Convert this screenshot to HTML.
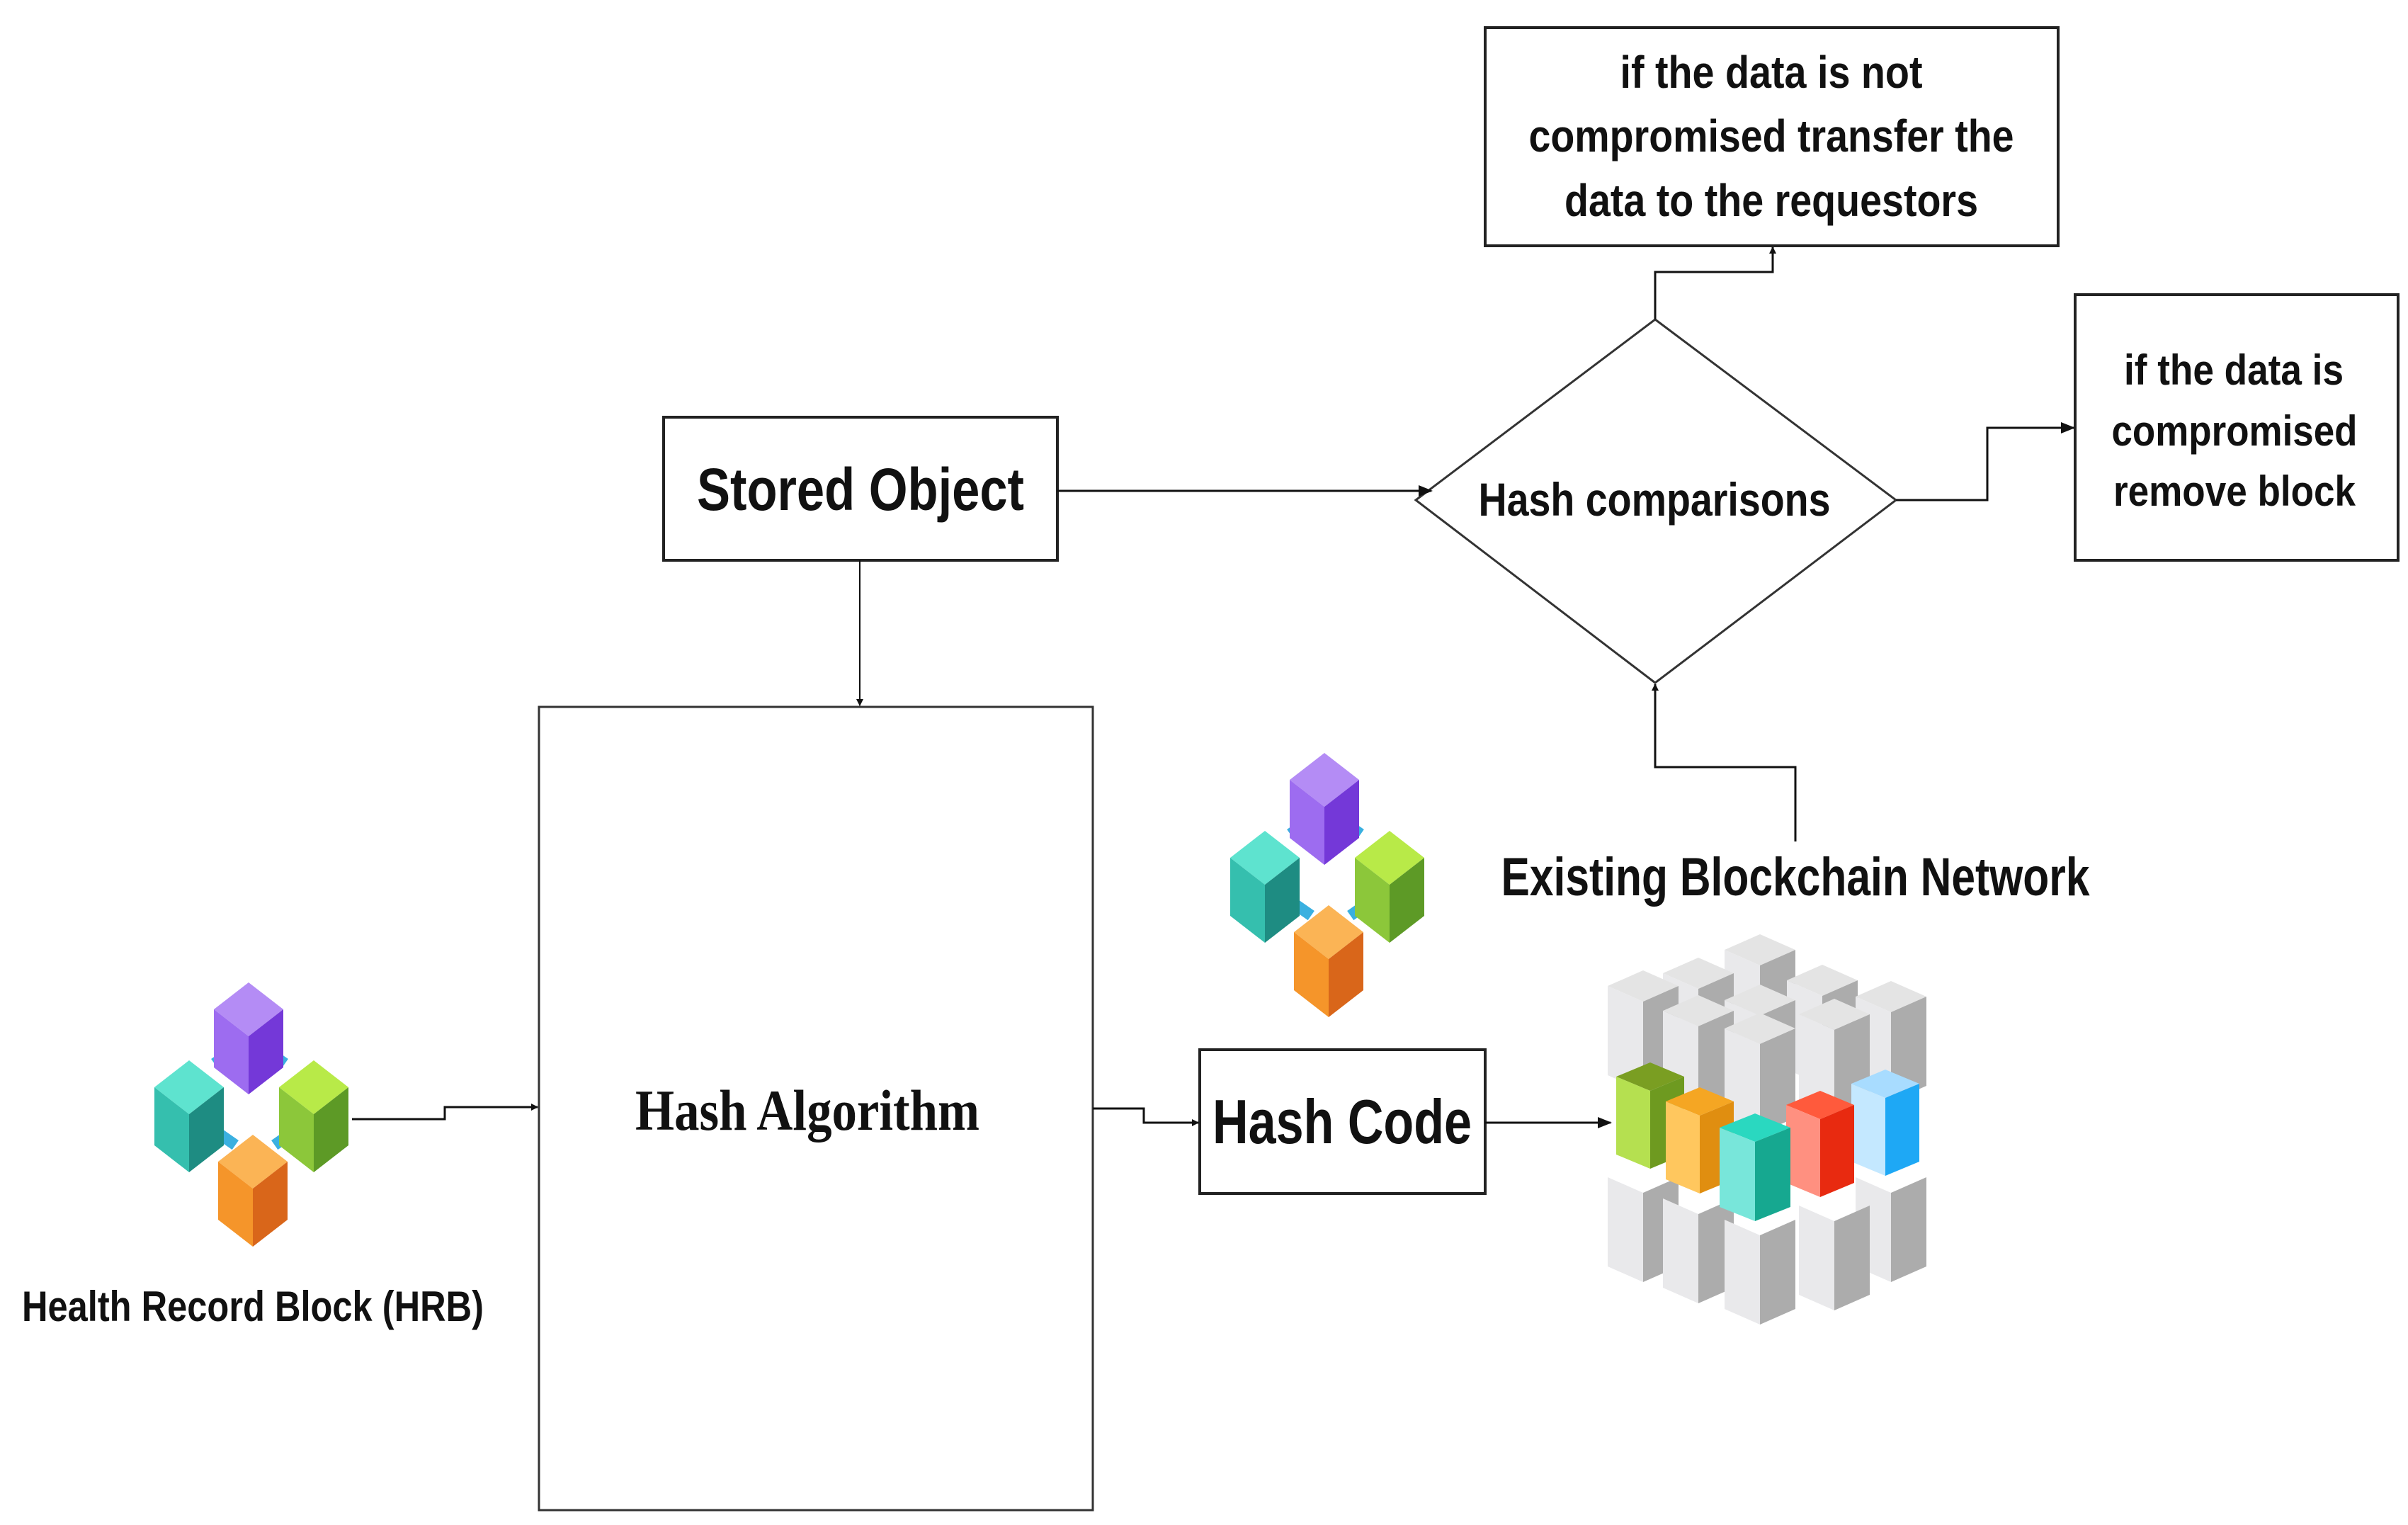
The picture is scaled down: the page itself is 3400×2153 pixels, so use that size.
<!DOCTYPE html>
<html><head><meta charset="utf-8">
<style>
html,body{margin:0;padding:0;background:#fff;}
svg{display:block;}
text{font-family:"Liberation Sans Narrow","Liberation Sans",sans-serif;font-weight:bold;fill:#111;}
</style></head>
<body>
<svg width="3400" height="2153" viewBox="0 0 3400 2153" xmlns="http://www.w3.org/2000/svg">
<defs>
<marker id="ah" markerWidth="10" markerHeight="10" refX="9" refY="5" orient="auto" markerUnits="userSpaceOnUse" viewBox="0 0 10 10">
<path d="M0,0 L10,5 L0,10 z" fill="#111"/>
</marker>
<marker id="ah2" markerWidth="20" markerHeight="20" refX="18" refY="10" orient="auto" markerUnits="userSpaceOnUse" viewBox="0 0 20 20">
<path d="M0,2 L20,10 L0,18 z" fill="#111"/>
</marker>
</defs>
<rect width="3400" height="2153" fill="#fff"/>

<!-- boxes -->
<rect x="2097" y="39" width="809" height="308" fill="none" stroke="#222" stroke-width="4"/>
<rect x="937" y="589" width="556" height="202" fill="none" stroke="#222" stroke-width="4"/>
<polygon points="2337,451 2677,706 2337,964 1999,706" fill="none" stroke="#333" stroke-width="3"/>
<rect x="2930" y="416" width="456" height="375" fill="none" stroke="#222" stroke-width="4"/>
<rect x="761" y="998" width="782" height="1134" fill="none" stroke="#333" stroke-width="3"/>
<rect x="1694" y="1482" width="403" height="203" fill="none" stroke="#222" stroke-width="4"/>

<!-- texts -->
<text x="2501" y="124" text-anchor="middle" font-size="64" textLength="427" lengthAdjust="spacingAndGlyphs">if the data is not</text>
<text x="2501" y="214" text-anchor="middle" font-size="64" textLength="685" lengthAdjust="spacingAndGlyphs">compromised transfer the</text>
<text x="2501" y="305" text-anchor="middle" font-size="64" textLength="584" lengthAdjust="spacingAndGlyphs">data to the requestors</text>
<text x="1215" y="720" text-anchor="middle" font-size="84" textLength="462" lengthAdjust="spacingAndGlyphs">Stored Object</text>
<text x="2336" y="728" text-anchor="middle" font-size="66" textLength="497" lengthAdjust="spacingAndGlyphs">Hash comparisons</text>
<text x="3154" y="543" text-anchor="middle" font-size="60" textLength="310" lengthAdjust="spacingAndGlyphs">if the data is</text>
<text x="3155" y="629" text-anchor="middle" font-size="60" textLength="347" lengthAdjust="spacingAndGlyphs">compromised</text>
<text x="3155" y="714" text-anchor="middle" font-size="60" textLength="342" lengthAdjust="spacingAndGlyphs">remove block</text>
<text x="1140" y="1595" text-anchor="middle" font-size="82" textLength="486" lengthAdjust="spacingAndGlyphs" style="font-family:'Liberation Serif',serif">Hash Algorithm</text>
<text x="1895" y="1614" text-anchor="middle" font-size="88" textLength="366" lengthAdjust="spacingAndGlyphs">Hash Code</text>
<text x="2535" y="1264" text-anchor="middle" font-size="76" textLength="831" lengthAdjust="spacingAndGlyphs">Existing Blockchain Network</text>
<text x="357" y="1865" text-anchor="middle" font-size="60" textLength="652" lengthAdjust="spacingAndGlyphs">Health Record Block (HRB)</text>

<!-- connectors -->
<g fill="none" stroke="#111" stroke-width="3">
<polyline points="497,1580 628,1580 628,1563 759,1563" marker-end="url(#ah)"/>
<polyline points="1543,1565 1615,1565 1615,1585 1692,1585" marker-end="url(#ah)"/>
<polyline points="2097,1585 2274,1585" marker-end="url(#ah2)"/>
<polyline points="1214,791 1214,996" stroke-width="2" marker-end="url(#ah)"/>
<polyline points="1493,693 2021,693" marker-end="url(#ah2)"/>
<polyline points="2337,451 2337,384 2503,384 2503,349" marker-end="url(#ah)"/>
<polyline points="2677,706 2806,706 2806,604 2928,604" marker-end="url(#ah2)"/>
<polyline points="2535,1188 2535,1083 2337,1083 2337,966" marker-end="url(#ah)"/>
</g>

<!-- cluster icon -->
<g id="cl">
<g fill="#3ab0e0">
<rect x="300" y="1485" width="30" height="16" transform="rotate(-35 315 1493)"/>
<rect x="375" y="1485" width="30" height="16" transform="rotate(35 390 1493)"/>
<rect x="305" y="1600" width="30" height="16" transform="rotate(35 320 1608)"/>
<rect x="385" y="1600" width="30" height="16" transform="rotate(-35 400 1608)"/>
</g>
<g transform="translate(351,1387)">
<polygon points="0,0 49,38 0,76 -49,38" fill="#b48cf5"/>
<polygon points="-49,38 0,76 0,158 -49,120" fill="#9d6cf0"/>
<polygon points="49,38 0,76 0,158 49,120" fill="#7438d8"/>
</g>
<g transform="translate(267,1497)">
<polygon points="0,0 49,38 0,76 -49,38" fill="#5ee3cf"/>
<polygon points="-49,38 0,76 0,158 -49,120" fill="#35bfae"/>
<polygon points="49,38 0,76 0,158 49,120" fill="#1e8c82"/>
</g>
<g transform="translate(443,1497)">
<polygon points="0,0 49,38 0,76 -49,38" fill="#b8ea48"/>
<polygon points="-49,38 0,76 0,158 -49,120" fill="#8cc73a"/>
<polygon points="49,38 0,76 0,158 49,120" fill="#5d9a26"/>
</g>
<g transform="translate(357,1602)">
<polygon points="0,0 49,38 0,76 -49,38" fill="#fbb455"/>
<polygon points="-49,38 0,76 0,158 -49,120" fill="#f5952a"/>
<polygon points="49,38 0,76 0,158 49,120" fill="#d9661a"/>
</g>
</g>
<use href="#cl" transform="translate(1519,-324)"/>

<!-- block stack -->
<g id="stack">
<!-- top gray layer -->
<g fill-rule="nonzero">
<g transform="translate(2485,1319)"><polygon points="0,0 50,22 0,44 -50,22" fill="#e4e4e4"/><polygon points="-50,22 0,44 0,170 -50,148" fill="#e9e9eb"/><polygon points="50,22 0,44 0,170 50,148" fill="#acacac"/></g>
<g transform="translate(2398,1352)"><polygon points="0,0 50,22 0,44 -50,22" fill="#e4e4e4"/><polygon points="-50,22 0,44 0,170 -50,148" fill="#e9e9eb"/><polygon points="50,22 0,44 0,170 50,148" fill="#acacac"/></g>
<g transform="translate(2573,1362)"><polygon points="0,0 50,22 0,44 -50,22" fill="#e4e4e4"/><polygon points="-50,22 0,44 0,170 -50,148" fill="#e9e9eb"/><polygon points="50,22 0,44 0,170 50,148" fill="#acacac"/></g>
<g transform="translate(2320,1370)"><polygon points="0,0 50,22 0,44 -50,22" fill="#e4e4e4"/><polygon points="-50,22 0,44 0,170 -50,148" fill="#e9e9eb"/><polygon points="50,22 0,44 0,170 50,148" fill="#acacac"/></g>
<g transform="translate(2485,1390)"><polygon points="0,0 50,22 0,44 -50,22" fill="#e4e4e4"/><polygon points="-50,22 0,44 0,170 -50,148" fill="#e9e9eb"/><polygon points="50,22 0,44 0,170 50,148" fill="#acacac"/></g>
<g transform="translate(2670,1385)"><polygon points="0,0 50,22 0,44 -50,22" fill="#e4e4e4"/><polygon points="-50,22 0,44 0,170 -50,148" fill="#e9e9eb"/><polygon points="50,22 0,44 0,170 50,148" fill="#acacac"/></g>
<g transform="translate(2398,1405)"><polygon points="0,0 50,22 0,44 -50,22" fill="#e4e4e4"/><polygon points="-50,22 0,44 0,170 -50,148" fill="#e9e9eb"/><polygon points="50,22 0,44 0,170 50,148" fill="#acacac"/></g>
<g transform="translate(2590,1410)"><polygon points="0,0 50,22 0,44 -50,22" fill="#e4e4e4"/><polygon points="-50,22 0,44 0,170 -50,148" fill="#e9e9eb"/><polygon points="50,22 0,44 0,170 50,148" fill="#acacac"/></g>
<g transform="translate(2485,1430)"><polygon points="0,0 50,22 0,44 -50,22" fill="#e4e4e4"/><polygon points="-50,22 0,44 0,170 -50,148" fill="#e9e9eb"/><polygon points="50,22 0,44 0,170 50,148" fill="#acacac"/></g>
<!-- bottom gray layer -->
<g transform="translate(2320,1640)"><polygon points="-50,22 0,44 0,170 -50,148" fill="#e9e9eb"/><polygon points="50,22 0,44 0,170 50,148" fill="#acacac"/></g>
<g transform="translate(2670,1640)"><polygon points="-50,22 0,44 0,170 -50,148" fill="#e9e9eb"/><polygon points="50,22 0,44 0,170 50,148" fill="#acacac"/></g>
<g transform="translate(2398,1670)"><polygon points="-50,22 0,44 0,170 -50,148" fill="#e9e9eb"/><polygon points="50,22 0,44 0,170 50,148" fill="#acacac"/></g>
<g transform="translate(2590,1680)"><polygon points="-50,22 0,44 0,170 -50,148" fill="#e9e9eb"/><polygon points="50,22 0,44 0,170 50,148" fill="#acacac"/></g>
<g transform="translate(2485,1700)"><polygon points="-50,22 0,44 0,170 -50,148" fill="#e9e9eb"/><polygon points="50,22 0,44 0,170 50,148" fill="#acacac"/></g>
<!-- colored row -->
<g transform="translate(2330,1500)"><polygon points="0,0 48,20 0,40 -48,20" fill="#7a9e22"/><polygon points="-48,20 0,40 0,150 -48,130" fill="#b5e050"/><polygon points="48,20 0,40 0,150 48,130" fill="#6e9a20"/></g>
<g transform="translate(2400,1535)"><polygon points="0,0 48,20 0,40 -48,20" fill="#f5a623"/><polygon points="-48,20 0,40 0,150 -48,130" fill="#ffc75e"/><polygon points="48,20 0,40 0,150 48,130" fill="#e08e10"/></g>
<g transform="translate(2662,1510)"><polygon points="0,0 48,20 0,40 -48,20" fill="#a8dcff"/><polygon points="-48,20 0,40 0,150 -48,130" fill="#c4e8ff"/><polygon points="48,20 0,40 0,150 48,130" fill="#1ea8f5"/></g>
<g transform="translate(2570,1540)"><polygon points="0,0 48,20 0,40 -48,20" fill="#ff5a3c"/><polygon points="-48,20 0,40 0,150 -48,130" fill="#ff9080"/><polygon points="48,20 0,40 0,150 48,130" fill="#e82a10"/></g>
<g transform="translate(2478,1572)"><polygon points="0,0 50,20 0,40 -50,20" fill="#2ad8c0"/><polygon points="-50,20 0,40 0,152 -50,132" fill="#78e6da"/><polygon points="50,20 0,40 0,152 50,132" fill="#16a890"/></g>
</g>
</g>
</svg>
</body></html>
